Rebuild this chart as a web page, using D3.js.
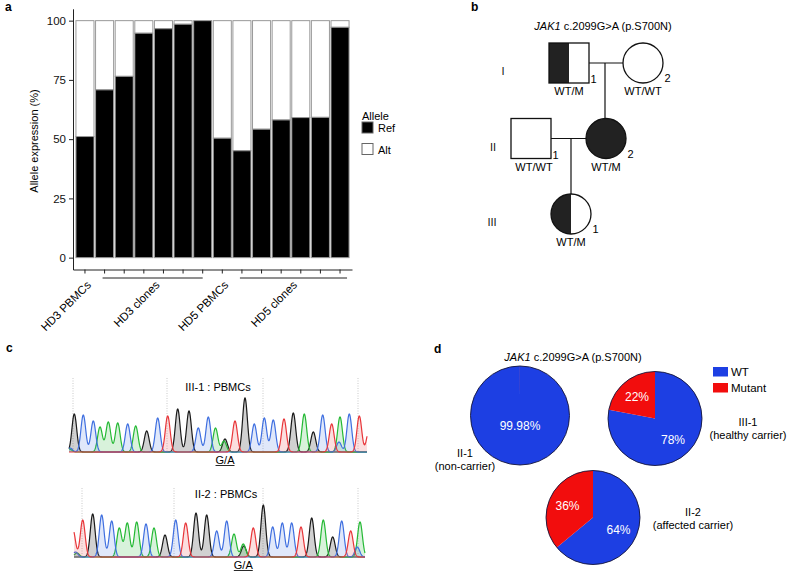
<!DOCTYPE html>
<html>
<head>
<meta charset="utf-8">
<script src="https://cdn.jsdelivr.net/npm/d3@7"></script>
<style>
  body { margin: 0; background: #fff; }
  svg { font-family: "Liberation Sans", Arial, Helvetica, sans-serif; }
</style>
</head>
<body>
<svg id="fig" width="800" height="579"></svg>
<script>
// ---------- panel a : allele expression ----------
const barSamples = ["HD3-P", "HD3-c1", "HD3-c2", "HD3-c3", "HD3-c4", "HD3-c5", "HD3-c6",
                    "HD5-P", "HD5-c1", "HD5-c2", "HD5-c3", "HD5-c4", "HD5-c5", "HD5-c6"];
const refPct = [51.1, 70.8, 76.5, 94.7, 96.6, 98.5, 100, 50.4, 45.1, 54.2, 58.1, 59.1, 59.2, 97.2];
const yTicks = [0, 25, 50, 75, 100];
const groupLabels = ["HD3 PBMCs", "HD3 clones", "HD5 PBMCs", "HD5 clones"];
const groupFirst = [0, 1, 7, 8];
const groupLast = [0, 6, 7, 13];
const alleleKeys = ["Ref", "Alt"];

// ---------- panel b : pedigree ----------
const pedIds = ["I-1", "I-2", "II-1", "II-2", "III-1"];
const pedSex = ["M", "F", "M", "F", "F"];
const pedStatus = ["half", "none", "none", "full", "half"];
const pedNumber = ["1", "2", "1", "2", "1"];
const pedGenotype = ["WT/M", "WT/WT", "WT/WT", "WT/M", "WT/M"];
const generations = ["I", "II", "III"];

// ---------- panel c : Sanger traces  [scan position, height, base] ----------
const trace1Peaks = [
  [5.3, 38, "G"], [14.3, 37, "C"], [24.3, 31, "C"], [31, 25, "A"], [39.3, 30, "A"],
  [48.7, 29, "A"], [58.7, 28, "C"], [66.7, 26, "A"], [77.7, 21, "G"], [88.7, 34, "C"],
  [98.7, 36, "T"], [108.7, 43, "G"], [120, 41, "G"], [129.3, 24, "C"], [139.3, 35, "C"],
  [146.5, 24, "A"], [156, 13, "G"], [155, 11, "A"], [166, 31, "T"], [176, 54, "G"],
  [185.3, 28, "C"], [195.3, 34, "C"], [204.3, 32, "C"], [215, 33, "T"], [224.3, 39, "G"],
  [235.3, 38, "A"], [244.3, 20, "G"], [253.7, 37, "C"], [262.7, 28, "T"], [271, 35, "A"],
  [270, 10, "C"], [280.3, 38, "C"], [290.3, 36, "T"], [300, 22, "T"], [1, 4, "C"], [0.5, 3, "A"]
];
const trace1Marks = [4, 98, 194, 289];
const trace2Peaks = [
  [-1, 27, "T"], [8.7, 37, "T"], [18.7, 43, "G"], [27.7, 42, "C"], [37.7, 36, "C"],
  [45.3, 29, "A"], [53.3, 34, "A"], [62.7, 35, "A"], [72, 33, "C"], [80, 29, "A"],
  [91, 22, "G"], [101.7, 37, "C"], [111.7, 34, "T"], [122, 44, "G"], [132.7, 42, "G"],
  [142.7, 26, "C"], [152.7, 36, "C"], [160, 23, "A"], [169.3, 13, "A"], [169.8, 11, "G"],
  [179.3, 29, "T"], [189.3, 52, "G"], [198.7, 30, "C"], [208.3, 34, "C"], [217.7, 34, "C"],
  [227, 30, "T"], [237.7, 39, "G"], [249.3, 37, "A"], [258.7, 20, "G"], [267.7, 36, "C"],
  [276.7, 26, "T"], [286, 35, "A"], [283.3, 10, "C"], [1.5, 5, "C"], [3, 4, "A"]
];
const trace2Marks = [8, 100, 189, 284];
const traceTitles = ["III-1 : PBMCs", "II-2 : PBMCs"];
const baseOrder = ["G", "A", "C", "T"];

// ---------- panel d : allele fractions ----------
const pieSamples = ["II-1", "III-1", "II-2"];
const pieNotes = ["(non-carrier)", "(healthy carrier)", "(affected carrier)"];
const wtPct = [99.98, 78, 64];
const mutPct = [0.02, 22, 36];
const wtText = ["99.98%", "78%", "64%"];
const mutText = ["", "22%", "36%"];
const pieKeys = ["WT", "Mutant"];

const svg = d3.select("#fig");
svg.append("rect").attr("width", 800).attr("height", 579).attr("fill", "#fff");

function panelLetter(t, x, y) {
  svg.append("text").attr("x", x).attr("y", y).attr("font-size", 12)
    .attr("font-weight", "bold").text(t);
}

// ================= a =================
panelLetter("a", 5, 11);
const ga = svg.append("g");
const xBar = d3.scaleBand().domain(barSamples).range([73, 352])
  .paddingInner(0.08).paddingOuter(0.15);
const yBar = d3.scaleLinear().domain([-5, 105]).range([269.5, 8.8]);

const bars = ga.append("g").selectAll("g").data(barSamples).join("g");
bars.append("rect")
  .attr("x", d => xBar(d)).attr("width", xBar.bandwidth())
  .attr("y", yBar(100)).attr("height", (d, i) => yBar(refPct[i]) - yBar(100))
  .attr("fill", "#fff").attr("stroke", "#999").attr("stroke-width", 1);
bars.append("rect")
  .attr("x", d => xBar(d)).attr("width", xBar.bandwidth())
  .attr("y", (d, i) => yBar(refPct[i])).attr("height", (d, i) => yBar(0) - yBar(refPct[i]))
  .attr("fill", "#000").attr("stroke", "#999").attr("stroke-width", 1);

const yAx = ga.append("g").attr("transform", "translate(73,0)")
  .call(d3.axisLeft(yBar).tickValues(yTicks).tickSize(4).tickSizeOuter(0).tickPadding(3));
const xAx = ga.append("g").attr("transform", "translate(0,269.5)")
  .call(d3.axisBottom(xBar).tickSize(4).tickSizeOuter(0).tickFormat(""));
[yAx, xAx].forEach(a => {
  a.selectAll("path, line").attr("stroke", "#222");
  a.selectAll("text").attr("font-size", 11.5).attr("fill", "#111")
    .attr("font-family", '"Liberation Sans", Arial, sans-serif');
});

ga.append("text").attr("transform", "translate(38,141) rotate(-90)")
  .attr("text-anchor", "middle").attr("font-size", 11).text("Allele expression (%)");

groupLabels.forEach((lab, i) => {
  const a = xBar(barSamples[groupFirst[i]]) + xBar.bandwidth() / 2;
  const b = xBar(barSamples[groupLast[i]]) + xBar.bandwidth() / 2;
  if (b > a) {
    ga.append("line").attr("x1", a - 2).attr("x2", b + (i === 3 ? 7 : 0))
      .attr("y1", 278).attr("y2", 278).attr("stroke", "#222");
  }
  const c = (a + b) / 2;
  ga.append("text").attr("transform", `translate(${c + 1},280) rotate(-45)`)
    .attr("text-anchor", "end").attr("dy", "0.71em").attr("font-size", 11.5)
    .text(lab);
});

// legend
ga.append("text").attr("x", 362).attr("y", 120).attr("font-size", 11).text("Allele");
alleleKeys.forEach((k, i) => {
  ga.append("rect").attr("x", 362).attr("y", 122 + i * 21.5).attr("width", 11).attr("height", 11)
    .attr("fill", k === "Ref" ? "#000" : "#fff").attr("stroke", "#666");
  ga.append("text").attr("x", 378).attr("y", 132 + i * 21.5).attr("font-size", 11).text(k);
});

// ================= b =================
panelLetter("b", 471, 11);
const gb = svg.append("g");
const title = (g, x, y) => {
  const t = g.append("text").attr("x", x).attr("y", y).attr("text-anchor", "middle").attr("font-size", 11);
  t.append("tspan").attr("font-style", "italic").text("JAK1");
  t.append("tspan").text(" c.2099G>A (p.S700N)");
};
title(gb, 603, 30);

const genY = d3.scaleLinear().domain([0, 2]).range([63, 214]);
const genLabelX = [503, 493, 492];
const pedX = { "I-1": 569, "I-2": 643, "II-1": 531, "II-2": 606, "III-1": 571 };
const pedGen = { "I-1": 0, "I-2": 0, "II-1": 1, "II-2": 1, "III-1": 2 };
const half = 20;

// connecting lines
const lineC = (x1, y1, x2, y2) => gb.append("line").attr("x1", x1).attr("y1", y1)
  .attr("x2", x2).attr("y2", y2).attr("stroke", "#111").attr("stroke-width", 1.2);
lineC(pedX["I-1"] + half, genY(0), pedX["I-2"] - half, genY(0));
lineC(605, genY(0), 605, genY(1) - half);
lineC(pedX["II-1"] + half, genY(1), pedX["II-2"] - half, genY(1));
lineC(571, genY(1), 571, genY(2) - half);

pedIds.forEach((id, i) => {
  const cx = pedX[id], cy = genY(pedGen[id]);
  const g = gb.append("g");
  if (pedSex[i] === "M") {
    g.append("rect").attr("x", cx - half).attr("y", cy - half).attr("width", 2 * half).attr("height", 2 * half)
      .attr("fill", pedStatus[i] === "full" ? "#222" : "#fff");
    if (pedStatus[i] === "half")
      g.append("rect").attr("x", cx - half).attr("y", cy - half).attr("width", half).attr("height", 2 * half).attr("fill", "#222");
    g.append("rect").attr("x", cx - half).attr("y", cy - half).attr("width", 2 * half).attr("height", 2 * half)
      .attr("fill", "none").attr("stroke", "#111").attr("stroke-width", 1.3);
  } else {
    g.append("circle").attr("cx", cx).attr("cy", cy).attr("r", half)
      .attr("fill", pedStatus[i] === "full" ? "#222" : "#fff");
    if (pedStatus[i] === "half")
      g.append("path").attr("d", `M${cx},${cy - half} A${half},${half} 0 0 0 ${cx},${cy + half} Z`).attr("fill", "#222");
    g.append("circle").attr("cx", cx).attr("cy", cy).attr("r", half)
      .attr("fill", "none").attr("stroke", "#111").attr("stroke-width", 1.3);
  }
  g.append("text").attr("x", cx + half + 1.5).attr("y", cy + half + (pedSex[i] === "M" ? 0 : -1))
    .attr("font-size", 11).text(pedNumber[i]);
  g.append("text").attr("x", cx + (id === "II-1" ? 3 : 0)).attr("y", cy + half + 12)
    .attr("text-anchor", "middle").attr("font-size", 11).text(pedGenotype[i]);
});
generations.forEach((gname, i) => {
  gb.append("text").attr("x", genLabelX[i]).attr("y", genY(i) + 12).attr("text-anchor", "middle")
    .attr("font-size", 11).attr("fill", "#111").text(gname);
});

// ================= c =================
panelLetter("c", 6, 352);
const gc = svg.append("g");
const baseColor = { G: "#1a1a1a", A: "#25b935", C: "#3f6fe0", T: "#e8363a" };
const baseFill = { G: "rgba(0,0,0,0.18)", A: "rgba(37,185,53,0.18)", C: "rgba(63,111,224,0.16)", T: "rgba(232,54,58,0.16)" };

function drawTrace(peaks, marks, len, x0, x1, baseline, markTop, name, titleX, titleY, hetIdx) {
  const g = gc.append("g");
  const x = d3.scaleLinear().domain([0, len]).range([x0, x1]);
  const y = d3.scaleLinear().domain([0, 60]).range([baseline, baseline - 60]);
  marks.forEach(m => g.append("line").attr("x1", x(m)).attr("x2", x(m))
    .attr("y1", markTop).attr("y2", baseline).attr("stroke", "#bbb")
    .attr("stroke-width", 0.8).attr("stroke-dasharray", "1,1.5"));
  const sig = 2.4;
  const steps = d3.range(0, len + 0.001, 0.25);
  baseOrder.forEach(b => {
    const pk = peaks.filter(p => p[2] === b);
    const pts = steps.map(s => [s, d3.sum(pk, p => p[1] * Math.exp(-((s - p[0]) ** 2) / (2 * sig * sig)))]);
    g.append("path").datum(pts)
      .attr("d", d3.area().x(d => x(d[0])).y0(y(0)).y1(d => y(d[1])))
      .attr("fill", baseFill[b]);
    g.append("path").datum(pts)
      .attr("d", d3.line().x(d => x(d[0])).y(d => y(d[1])))
      .attr("fill", "none").attr("stroke", baseColor[b]).attr("stroke-width", 1.2);
  });
  g.append("text").attr("x", titleX).attr("y", titleY).attr("text-anchor", "middle")
    .attr("font-size", 11).text(name);
  const hx = x(peaks[hetIdx][0]);
  const t = g.append("text").attr("x", hx).attr("y", baseline + 12).attr("text-anchor", "middle")
    .attr("font-size", 11).text("G/A");
  const w = t.node().getComputedTextLength();
  g.append("line").attr("x1", hx - w / 2).attr("x2", hx + w / 2)
    .attr("y1", baseline + 13.5).attr("y2", baseline + 13.5).attr("stroke", "#111").attr("stroke-width", 0.9);
}
drawTrace(trace1Peaks, trace1Marks, 298, 69, 367, 452, 378, traceTitles[0], 218, 390.5, 16);
drawTrace(trace2Peaks, trace2Marks, 291, 74, 365, 557, 488, traceTitles[1], 226, 498, 18);

// ================= d =================
panelLetter("d", 434, 353);
const gd = svg.append("g");
title(gd, 573, 361);
const pieBlue = "#1d3fe3", pieRed = "#f20d0d";
const pieLayout = [{ cx: 520, cy: 415.5, r: 49.5, lx: 465, ly: 457 },
                   { cx: 655, cy: 418.5, r: 47, lx: 748, ly: 426 },
                   { cx: 593, cy: 517.5, r: 47, lx: 693, ly: 516 }];
const pieGen = d3.pie().sort(null).value(d => d);
pieSamples.forEach((s, i) => {
  const L = pieLayout[i];
  const g = gd.append("g").attr("transform", `translate(${L.cx},${L.cy})`);
  const arcs = pieGen([wtPct[i], mutPct[i]]);
  const arc = d3.arc().innerRadius(0).outerRadius(L.r);
  const lab = d3.arc().innerRadius(L.r * 0.6).outerRadius(L.r * 0.6);
  g.selectAll("path").data(arcs).join("path").attr("d", arc)
    .attr("fill", (d, j) => j === 0 ? pieBlue : pieRed);
  g.append("circle").attr("r", L.r).attr("fill", "none").attr("stroke", "#14143a").attr("stroke-width", 0.9);
  const txt = [wtText[i], mutText[i]];
  arcs.forEach((a, j) => {
    if (!txt[j]) return;
    let [px, py] = lab.centroid(a);
    if (mutPct[i] < 1) { px = 0; py = 10; }
    g.append("text").attr("x", px).attr("y", py).attr("dy", "0.35em").attr("text-anchor", "middle")
      .attr("fill", "#fff").attr("font-size", 12).text(txt[j]);
  });
  gd.append("text").attr("x", L.lx).attr("y", L.ly).attr("text-anchor", "middle").attr("font-size", 11).text(s);
  gd.append("text").attr("x", L.lx).attr("y", L.ly + 13).attr("text-anchor", "middle").attr("font-size", 11).text(pieNotes[i]);
});
pieKeys.forEach((k, i) => {
  gd.append("rect").attr("x", 713).attr("y", 367 + i * 16).attr("width", 15).attr("height", 9.5)
    .attr("fill", i === 0 ? pieBlue : pieRed);
  gd.append("text").attr("x", 731).attr("y", 376 + i * 16).attr("font-size", 11.5).text(k);
});
</script>
</body>
</html>
